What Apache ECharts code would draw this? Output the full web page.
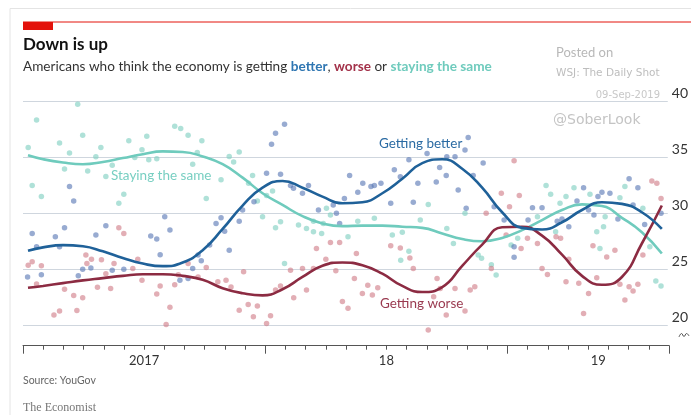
<!DOCTYPE html>
<html>
<head>
<meta charset="utf-8">
<script src="https://cdn.jsdelivr.net/npm/echarts@6/dist/echarts.min.js"></script>
<style>
  html, body { margin: 0; padding: 0; background: #fff; }
  #chart { width: 691px; height: 415px; }
</style>
</head>
<body>
<div id="chart"></div>
<script>
// Months counted from January 2017 (0) to September 2019 (32)
const yearTicks = [0, 12, 24, 32];
const yearLabels = [[6, '2017'], [18, '18'], [28.5, '19']];
const yTicks = [20, 25, 30, 35, 40];

// Smoothed trends, % of Americans
const betterLine = [[0.25,26.65],[1,26.95],[2,27.15],[3,27.05],[4,26.6],[5,26.0],[6,25.5],[7,25.27],[8,25.6],[9,26.7],[10,28.6],[11,30.7],[12,32.3],[13,32.9],[14,32.3],[15,31.5],[16,30.9],[17,31.0],[18,31.8],[19,33.1],[20,34.5],[21,34.85],[22,34.0],[23,32.3],[24,30.1],[25,28.7],[26,28.55],[27,29.2],[28,30.3],[29,31.0],[30,30.85],[31,30.1],[32,28.6]];
const sameLine = [[0.25,35.2],[1,34.85],[2,34.55],[3,34.4],[4,34.6],[5,34.95],[6,35.3],[7,35.55],[8,35.5],[9,35.1],[10,34.4],[11,33.2],[12,31.8],[13,30.75],[14,29.75],[15,29.1],[16,28.86],[17,28.9],[18,28.9],[19,28.8],[20,28.7],[21,28.2],[22,27.7],[23,27.5],[24,27.8],[25,28.5],[26,29.4],[27,30.3],[28,30.8],[29,30.65],[30,29.6],[31,28.3],[32,26.4]];
const worseLine = [[0.25,23.33],[1,23.5],[2,23.75],[3,24.0],[4,24.2],[5,24.4],[6,24.55],[7,24.55],[8,24.4],[9,24.05],[10,23.3],[11,22.85],[12,22.65],[13,23.2],[14,24.3],[15,25.3],[16,25.6],[17,25.35],[18,24.6],[19,23.5],[20,22.95],[21,23.4],[22,25.3],[23,27.2],[24,28.75],[25,28.8],[26,28.0],[27,26.3],[28,24.4],[29,23.6],[30,24.3],[31,27.3],[32,30.7]];

// Individual poll results
const betterDots = [[0.23,24.3],[0.46,28.2],[0.68,27.0],[0.92,24.5],[1.62,27.9],[1.83,27.0],[2.08,28.7],[2.33,32.4],[2.54,31.1],[2.77,24.4],[2.99,25.0],[3.4,25.1],[3.65,28.05],[4.15,28.9],[4.47,24.9],[5.05,25.0],[6.4,27.97],[6.7,27.7],[6.87,26.3],[7.1,29.7],[7.36,28.5],[7.86,24.0],[8.27,24.17],[8.5,25.07],[8.77,26.27],[8.93,25.76],[9.35,27.16],[9.67,29.1],[9.92,29.6],[10.1,28.4],[10.33,26.7],[10.83,29.3],[11.0,30.3],[11.57,31.04],[12.2,33.6],[12.45,36.2],[12.65,37.17],[12.9,33.5],[13.1,37.97],[13.4,32.5],[13.55,32.24],[14.0,31.8],[14.3,32.5],[14.8,30.3],[15.54,30.74],[15.7,30.0],[15.86,29.1],[16.1,31.34],[16.36,33.4],[16.77,31.9],[17.02,32.7],[17.43,32.4],[17.6,32.5],[17.93,32.7],[18.42,30.9],[18.6,33.9],[18.9,33.28],[19.33,34.8],[19.55,31.0],[19.78,32.7],[20.24,35.37],[20.7,32.8],[20.87,34.1],[21.2,33.4],[21.23,35.07],[21.64,35.07],[21.8,32.1],[22.14,35.67],[22.2,30.45],[22.3,36.8],[22.55,33.4],[23.05,34.5],[23.6,30.6],[24.1,29.4],[24.6,27.0],[24.6,26.06],[25.3,29.4],[25.52,30.5],[26.0,30.5],[26.76,29.3],[27.0,29.5],[27.34,28.8],[27.75,31.1],[28.08,32.3],[28.33,30.3],[28.6,29.85],[28.8,31.5],[29.0,31.9],[29.4,31.8],[29.8,29.5],[30.36,33.1],[30.56,30.74],[30.8,32.3],[31.14,29.0],[31.96,30.0]];
const worseDots = [[0.26,25.36],[0.46,25.66],[0.68,23.67],[0.92,25.3],[1.55,20.9],[1.83,21.25],[2.08,23.2],[2.54,22.65],[2.7,21.3],[2.99,22.44],[3.15,26.27],[3.2,25.5],[3.43,25.9],[3.73,23.37],[3.93,25.84],[4.15,24.6],[4.39,23.28],[4.56,25.5],[4.8,28.7],[5.05,28.2],[5.5,25.07],[5.75,25.88],[5.96,24.0],[6.7,22.77],[6.87,23.5],[7.17,20.05],[7.36,21.6],[7.6,23.6],[7.78,24.5],[8.27,25.5],[8.77,24.3],[9.18,25.16],[9.76,23.87],[10.17,24.0],[10.42,23.4],[10.83,21.33],[11.05,24.77],[11.28,21.84],[11.54,20.73],[11.74,21.7],[12.2,20.14],[12.4,20.83],[12.65,23.13],[12.9,23.5],[13.4,24.9],[13.56,22.44],[14.0,25.07],[14.2,23.13],[14.55,25.07],[14.7,26.86],[15.17,25.9],[15.4,27.4],[15.67,24.86],[15.86,27.4],[16.0,22.1],[16.28,21.5],[16.6,24.17],[16.7,26.4],[17.0,22.83],[17.27,23.57],[17.5,22.68],[17.77,23.33],[18.42,27.1],[18.9,26.9],[19.38,26.0],[19.55,25.07],[20.3,19.55],[20.57,22.53],[20.74,24.17],[20.9,23.28],[21.2,20.9],[21.64,23.28],[22.14,21.25],[22.4,23.13],[22.63,23.42],[23.2,30.0],[23.46,25.07],[23.96,31.8],[24.2,28.05],[24.37,30.6],[24.6,34.7],[24.86,31.6],[24.95,26.86],[25.27,27.76],[25.77,27.3],[26.0,25.07],[26.27,24.53],[26.7,27.9],[26.93,27.76],[27.2,23.87],[27.34,25.9],[27.84,23.73],[28.08,21.04],[28.33,22.83],[28.55,27.1],[28.74,24.23],[29.24,26.1],[29.65,26.7],[29.9,23.64],[30.15,22.23],[30.36,23.42],[30.56,23.04],[30.8,23.64],[31.05,26.26],[31.5,32.9],[31.75,32.7],[31.96,31.34]];
const sameDots = [[0.26,35.9],[0.46,32.5],[0.68,38.36],[0.92,31.5],[1.83,36.3],[2.08,33.97],[2.33,35.4],[2.74,39.77],[2.99,37.0],[3.24,33.8],[3.65,35.07],[3.9,35.9],[4.15,33.3],[4.47,34.3],[4.8,30.9],[5.05,31.7],[5.3,36.5],[5.6,35.0],[5.96,35.7],[6.2,36.9],[6.3,34.8],[6.7,34.9],[7.6,37.8],[7.9,37.6],[8.27,37.0],[8.5,34.4],[8.73,35.46],[8.96,36.5],[9.18,31.34],[9.92,33.0],[10.33,35.1],[10.55,34.6],[10.83,35.5],[11.3,32.7],[11.5,33.4],[11.74,31.1],[12.0,29.7],[12.2,31.6],[12.5,32.0],[12.65,28.7],[12.9,29.25],[13.1,25.5],[13.8,28.95],[14.2,28.65],[14.55,29.3],[14.55,28.35],[14.96,28.2],[15.04,29.1],[15.2,30.45],[15.4,29.85],[16.28,27.9],[16.77,29.3],[17.6,29.55],[18.5,28.05],[18.92,25.8],[19.0,28.3],[19.33,26.6],[19.9,29.4],[20.3,30.8],[21.23,28.65],[21.56,27.3],[22.14,30.0],[22.8,26.26],[22.97,25.97],[23.46,25.4],[23.7,24.47],[24.45,27.16],[24.78,27.76],[25.77,29.7],[26.2,32.5],[26.43,31.7],[26.68,28.35],[26.9,30.9],[27.2,31.5],[27.6,32.3],[28.4,31.7],[28.74,28.35],[28.9,26.86],[29.08,28.8],[29.16,29.7],[29.9,31.4],[30.15,32.4],[31.05,30.45],[31.4,27.0],[31.7,23.93],[31.96,23.5]];

const C = {
  better: '#1f6199', betterDot: 'rgba(84,115,178,0.75)',
  worse: '#8c2b42', worseDot: 'rgba(206,120,132,0.75)',
  same: '#6fcbbd', sameDot: 'rgba(130,208,194,0.8)'
};
const SANS = 'Lato, "Open Sans", sans-serif';

const monthTicks = [];
for (let m = 0; m <= 32; m++) monthTicks.push(m);
const labelMap = Object.fromEntries(yearLabels.map(d => [d[0], d[1]]));

const chart = echarts.init(document.getElementById('chart'));

function dotSeries(name, data, color) {
  return { name, type: 'scatter', xAxisIndex: 0, yAxisIndex: 0, data, symbolSize: 5.5,
    clip: false, itemStyle: { color }, z: 2, silent: true };
}
function lineSeries(name, data, color) {
  return { name, type: 'line', xAxisIndex: 0, yAxisIndex: 0, data, smooth: true, showSymbol: false,
    lineStyle: { color, width: 2.6 }, z: 5, silent: true };
}

chart.setOption({
  animation: false,
  backgroundColor: '#fff',
  grid: [
    { left: 23, top: 101.7, width: 652, height: 223.3 },
    { left: 23, top: 330, width: 646, height: 15.7 }
  ],
  xAxis: [
    { gridIndex: 0, type: 'value', min: 0, max: 652 / 646 * 32, show: false },
    { gridIndex: 1, type: 'value', min: 0, max: 32, position: 'bottom',
      axisLine: { show: true, lineStyle: { color: '#555', width: 1 } },
      axisTick: { show: true, customValues: monthTicks, length: 4, lineStyle: { color: '#555' } },
      axisLabel: { show: true, customValues: yearLabels.map(d => d[0]),
        formatter: v => labelMap[v] || '', margin: 9, fontFamily: SANS, fontSize: 13, color: '#333' },
      splitLine: { show: false } },
    { gridIndex: 1, type: 'value', min: 0, max: 32, position: 'bottom',
      axisLine: { show: false },
      axisTick: { show: true, customValues: yearTicks, length: 8, lineStyle: { color: '#555' } },
      axisLabel: { show: false }, splitLine: { show: false } }
  ],
  yAxis: [
    { gridIndex: 0, type: 'value', min: 20, max: 40, interval: 5, position: 'right',
      axisLine: { show: false }, axisTick: { show: false },
      axisLabel: { customValues: yTicks, margin: 4, verticalAlign: 'bottom', fontFamily: SANS,
        fontSize: 14, color: '#333', padding: [0, 0, 1, 0] },
      splitLine: { show: true, lineStyle: { color: '#cfd6de', width: 1.2 } } },
    { gridIndex: 1, type: 'value', show: false, min: 0, max: 1 }
  ],
  series: [
    dotSeries('Staying the same dots', sameDots, C.sameDot),
    dotSeries('Getting worse dots', worseDots, C.worseDot),
    dotSeries('Getting better dots', betterDots, C.betterDot),
    lineSeries('Staying the same', sameLine, C.same),
    lineSeries('Getting worse', worseLine, C.worse),
    lineSeries('Getting better', betterLine, C.better)
  ],
  graphic: [
    // panel frame
    { type: 'polyline', shape: { points: [[10, 415], [10, 8.5], [691, 8.5]] },
      style: { stroke: '#e4e4e4', lineWidth: 1, fill: null } },
    { type: 'line', shape: { x1: 23, y1: 22, x2: 691, y2: 22 }, style: { stroke: '#e3120b', lineWidth: 1 } },
    { type: 'rect', shape: { x: 23, y: 22, width: 30, height: 8 }, style: { fill: '#e3120b' } },
    { type: 'text', x: 23, y: 45, style: { text: 'Down is up', font: 'bold 17px ' + SANS, fill: '#111', verticalAlign: 'middle' } },
    { type: 'text', x: 23, y: 67, style: {
        text: 'Americans who think the economy is getting {b|better}, {w|worse} or {s|staying the same}',
        font: '13.6px ' + SANS, fill: '#333', verticalAlign: 'middle',
        rich: {
          b: { fill: '#2f76b2', font: 'bold 13.6px ' + SANS },
          w: { fill: '#a3324a', font: 'bold 13.6px ' + SANS },
          s: { fill: '#6fcbbd', font: 'bold 13.6px ' + SANS }
        } } },
    // watermark
    { type: 'text', x: 556, y: 53, style: { text: 'Posted on', font: '13px ' + SANS, fill: '#b8b8b8', verticalAlign: 'middle' } },
    { type: 'text', x: 556, y: 73, style: { text: 'WSJ: The Daily Shot', font: '10.5px "DejaVu Sans", sans-serif', fill: '#bdbdbd', verticalAlign: 'middle' } },
    { type: 'text', x: 660, y: 95, style: { text: '09-Sep-2019', font: '10px "DejaVu Sans", sans-serif', fill: '#c8c8c8', align: 'right', verticalAlign: 'middle' } },
    { type: 'text', x: 553, y: 120, style: { text: '@SoberLook', font: '14px "DejaVu Sans", sans-serif', fill: '#c4c4c4', verticalAlign: 'middle' } },
    // series annotations
    { type: 'text', x: 379, y: 144, style: { text: 'Getting better', font: '13.5px ' + SANS, fill: '#2b6ba3', verticalAlign: 'middle' } },
    { type: 'text', x: 111, y: 176, style: { text: 'Staying the same', font: '13.5px ' + SANS, fill: '#78cfc2', verticalAlign: 'middle' } },
    { type: 'text', x: 380, y: 304, style: { text: 'Getting worse', font: '13.5px ' + SANS, fill: '#9a3a50', verticalAlign: 'middle' } },
    // axis break mark
    { type: 'polyline', shape: { points: [[679, 337], [681.5, 333.5], [684, 336.5], [686.5, 333.5], [689, 336]], smooth: 0.5 },
      style: { stroke: '#555', lineWidth: 1, fill: null } },
    // footer
    { type: 'text', x: 23, y: 381, style: { text: 'Source: YouGov', font: '10.5px ' + SANS, fill: '#666', verticalAlign: 'middle' } },
    { type: 'text', x: 23, y: 408, style: { text: 'The Economist', font: '12px "Liberation Serif", "DejaVu Serif", serif', fill: '#777', verticalAlign: 'middle' } }
  ]
});
</script>
</body>
</html>
